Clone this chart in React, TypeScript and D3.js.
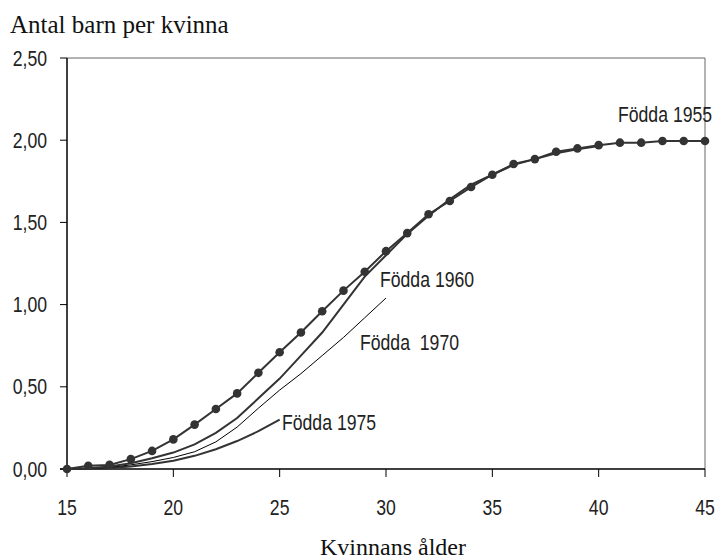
import React from 'react';
import * as d3 from 'd3';

// ages on the x axis
const ages = d3.range(15, 46);

// cumulative number of children per woman, by birth cohort
const fodda1955 = [0, 0.02, 0.025, 0.06, 0.11, 0.18, 0.27, 0.365, 0.46, 0.585, 0.71, 0.83, 0.96, 1.085, 1.2, 1.325, 1.435, 1.55, 1.63, 1.715, 1.79, 1.855, 1.885, 1.93, 1.95, 1.97, 1.985, 1.985, 1.995, 1.995, 1.995];
const fodda1960 = [0, 0.005, 0.015, 0.035, 0.065, 0.1, 0.15, 0.22, 0.31, 0.43, 0.55, 0.69, 0.83, 1.0, 1.17, 1.3, 1.43, 1.54, 1.64, 1.73, 1.79, 1.85, 1.885, 1.92, 1.945, 1.965];
const fodda1970 = [0, 0.003, 0.01, 0.025, 0.045, 0.07, 0.105, 0.165, 0.255, 0.37, 0.48, 0.58, 0.69, 0.8, 0.92, 1.04];
const fodda1975 = [0, 0.002, 0.006, 0.015, 0.03, 0.05, 0.08, 0.12, 0.17, 0.23, 0.3];

const xTicks = [15, 20, 25, 30, 35, 40, 45];
const yTicks = [0, 0.5, 1, 1.5, 2, 2.5];

const sans = "'Liberation Sans', Arial, sans-serif";
const serif = "'Liberation Serif', 'Times New Roman', serif";

// no narrow font installed, so squeeze a normal sans horizontally
const Narrow = ({ x, y, anchor = 'start', children }: { x: number; y: number; anchor?: string; children: React.ReactNode }) => (
  <text
    transform={`translate(${x},${y}) scale(0.82,1)`}
    textAnchor={anchor}
    fontFamily={sans}
    fontSize={21.5}
    fill="#222"
    style={{ whiteSpace: 'pre' }}
  >
    {children}
  </text>
);

const App = () => {
  const width = 716;
  const height = 560;
  const left = 67;
  const right = 705;
  const top = 58;
  const bottom = 469;

  const x = d3.scaleLinear().domain([15, 45]).range([left, right]);
  const y = d3.scaleLinear().domain([0, 2.5]).range([bottom, top]);

  const line = d3.line<number>()
    .x((d, i) => x(ages[i]))
    .y(d => y(d));

  const fmt = (v: number) => v.toFixed(2).replace('.', ',');

  return (
    <svg width={width} height={height} style={{ position: 'absolute', left: 0, top: 0, background: '#fff' }}>
      {/* frame */}
      <line x1={left} x2={right} y1={top} y2={top} stroke="#666" strokeWidth={1} />
      <line x1={right} x2={right} y1={top} y2={bottom} stroke="#666" strokeWidth={1} />
      <line x1={left} x2={left} y1={top} y2={bottom} stroke="#000" strokeWidth={1.5} />
      <line x1={left - 7} x2={right} y1={bottom} y2={bottom} stroke="#000" strokeWidth={1.5} />

      {/* y axis */}
      {yTicks.map(t => (
        <g key={t}>
          <line x1={left - 7} x2={left} y1={y(t)} y2={y(t)} stroke="#000" />
          <Narrow x={47} y={y(t) + 7.5} anchor="end">{fmt(t)}</Narrow>
        </g>
      ))}

      {/* x axis */}
      {xTicks.map(t => (
        <g key={t}>
          <line x1={x(t)} x2={x(t)} y1={bottom} y2={bottom + 8} stroke="#000" />
          <Narrow x={x(t)} y={515} anchor="middle">{String(t)}</Narrow>
        </g>
      ))}

      {/* series */}
      <path d={line(fodda1975) || ''} fill="none" stroke="#333" strokeWidth={2} />
      <path d={line(fodda1970) || ''} fill="none" stroke="#000" strokeWidth={1} />
      <path d={line(fodda1960) || ''} fill="none" stroke="#333" strokeWidth={2} />
      <path d={line(fodda1955) || ''} fill="none" stroke="#333" strokeWidth={2} />
      {fodda1955.map((v, i) => (
        <circle key={i} cx={x(ages[i])} cy={y(v)} r={4.3} fill="#333" />
      ))}

      {/* series labels */}
      <Narrow x={618} y={122}>Födda 1955</Narrow>
      <Narrow x={380} y={287}>Födda 1960</Narrow>
      <Narrow x={360} y={350}>Födda  1970</Narrow>
      <Narrow x={282} y={430}>Födda 1975</Narrow>

      {/* axis titles */}
      <text x={10} y={33} fontFamily={serif} fontSize={25} fill="#111">Antal barn per kvinna</text>
      <text x={393} y={555} textAnchor="middle" fontFamily={serif} fontSize={24} fill="#111">Kvinnans ålder</text>
    </svg>
  );
};

export default App;
